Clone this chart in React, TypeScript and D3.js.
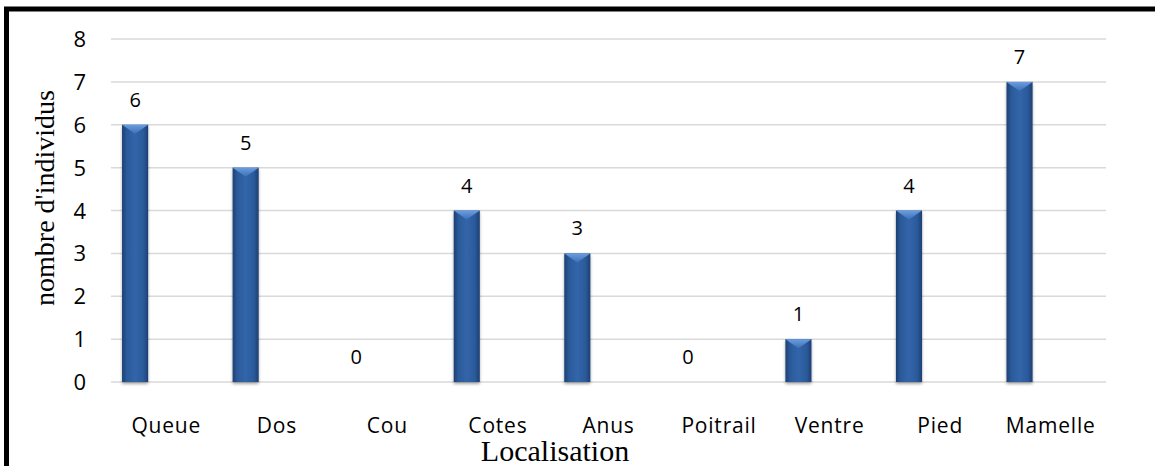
import React from "react";
import * as d3 from "d3";

const categories = ["Queue", "Dos", "Cou", "Cotes", "Anus", "Poitrail", "Ventre", "Pied", "Mamelle"];
const values = [6, 5, 0, 4, 3, 0, 1, 4, 7];
const yTicks = [0, 1, 2, 3, 4, 5, 6, 7, 8];
const xTitle = "Localisation";
const yTitle = "nombre d'individus";

const W = 1155;
const H = 466;
const plot = { left: 111, right: 1106, top: 39, bottom: 382 };

export default function App() {
  const x = d3.scaleBand<string>().domain(categories).range([plot.left, plot.right]).padding(0);
  const y = d3.scaleLinear().domain([0, 8]).range([plot.bottom, plot.top]);
  const bw = x.bandwidth();
  const barOff = bw * 0.1;
  const barW = bw * 0.236;
  const sans = "'Open Sans', 'Noto Sans', sans-serif";
  const serif = "'Liberation Serif', 'Times New Roman', serif";

  return (
    <svg
      width={W}
      height={H}
      style={{ position: "absolute", left: 0, top: 0, background: "#fff" }}
    >
      <defs>
        <linearGradient id="barGrad" x1="0" x2="1" y1="0" y2="0">
          <stop offset="0" stopColor="#1d3f72" />
          <stop offset="0.18" stopColor="#2b5a9a" />
          <stop offset="0.5" stopColor="#3265aa" />
          <stop offset="0.82" stopColor="#2b5a9a" />
          <stop offset="1" stopColor="#1d3f72" />
        </linearGradient>
        <linearGradient id="bevelGrad" x1="0" x2="0" y1="0" y2="1">
          <stop offset="0" stopColor="#6a9ee0" />
          <stop offset="1" stopColor="#3d70b6" />
        </linearGradient>
        <filter id="shadow" x="-50%" y="-10%" width="200%" height="130%">
          <feDropShadow dx="0" dy="2" stdDeviation="1.6" floodColor="#000" floodOpacity="0.35" />
        </filter>
      </defs>

      <rect x={6.5} y={9} width={W + 20} height={H + 20} fill="#fff" stroke="#000" strokeWidth={5} />

      {yTicks.map((t) => (
        <g key={t}>
          <line
            x1={plot.left}
            x2={plot.right}
            y1={y(t)}
            y2={y(t)}
            stroke="#d9d9d9"
            strokeWidth={1.5}
          />
          <text
            x={86}
            y={y(t) + 8}
            textAnchor="end"
            fontFamily={sans}
            fontSize={22}
            fill="#000"
          >
            {t}
          </text>
        </g>
      ))}

      {categories.map((c, i) => {
        const v = values[i];
        const x0 = (x(c) as number) + barOff;
        const cx = x0 + barW / 2;
        const top = y(v);
        const h = plot.bottom - top;
        const bev = Math.min(9, h);
        return (
          <g key={c}>
            {v > 0 && (
              <g filter="url(#shadow)">
                <rect x={x0} y={top} width={barW} height={h} fill="url(#barGrad)" />
                <polygon
                  points={`${x0},${top} ${x0 + barW},${top} ${cx},${top + bev}`}
                  fill="url(#bevelGrad)"
                />
              </g>
            )}
            <text
              x={cx}
              y={top - 18}
              textAnchor="middle"
              fontFamily={sans}
              fontSize={20}
              fill="#000"
            >
              {v}
            </text>
            <text
              x={(x(c) as number) + bw / 2}
              y={433}
              textAnchor="middle"
              fontFamily={sans}
              fontSize={21}
              letterSpacing={0.8}
              fill="#000"
            >
              {c}
            </text>
          </g>
        );
      })}

      <text x={555} y={461} textAnchor="middle" fontFamily={serif} fontSize={30} fill="#000">
        {xTitle}
      </text>
      <text
        transform={`translate(54, 198) rotate(-90)`}
        textAnchor="middle"
        fontFamily={serif}
        fontSize={28}
        fill="#000"
      >
        {yTitle}
      </text>
    </svg>
  );
}
